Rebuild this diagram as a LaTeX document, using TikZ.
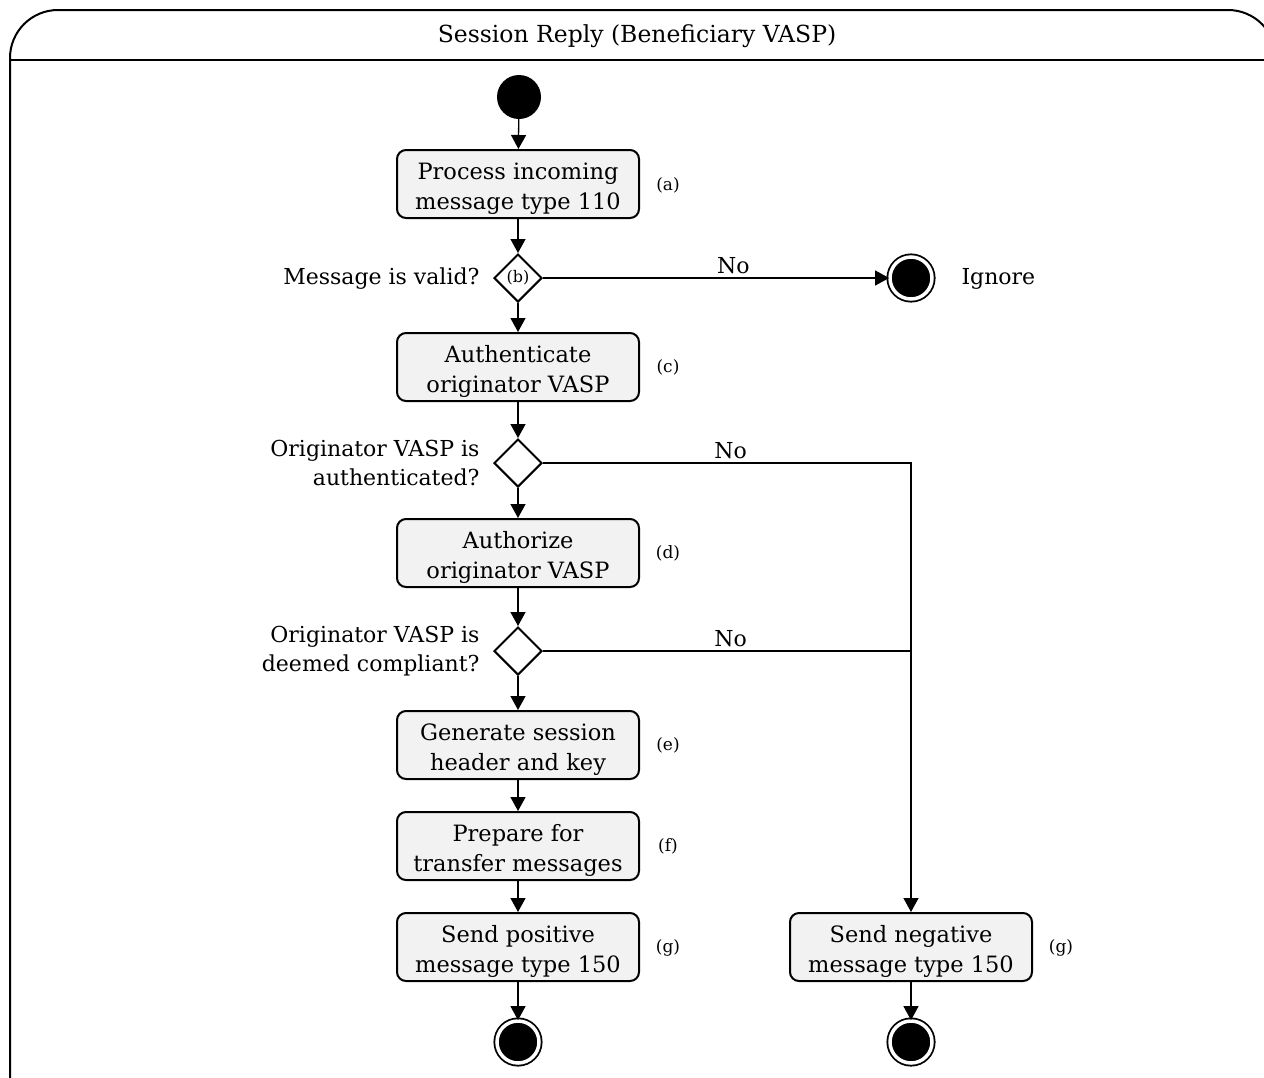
\documentclass[tikz,border=0pt]{standalone}
\usepackage{fontspec}
\setmainfont{DejaVu Serif}
\usetikzlibrary{arrows.meta,shapes.geometric}
% two centred lines inside an action box, first line given extra head room
\newcommand\boxlines[2]{\rule{0pt}{25pt}#1\\#2}
\tikzset{
  frame/.style={line width=2pt, rounded corners=48pt},
  actbox/.style={draw, line width=2pt, rounded corners=9pt, fill=black!5,
    minimum width=242pt, minimum height=68pt, align=center, inner sep=0pt,
    font=\fontsize{22.5}{30}\selectfont},
  decide/.style={draw, line width=2pt, diamond, minimum width=48pt, minimum height=48pt,
    inner sep=0pt, font=\fontsize{16}{18}\selectfont},
  startdot/.style={circle, fill=black, minimum size=44pt, inner sep=0pt},
  enddot/.style={circle, draw, line width=1.8pt, fill=black, double=white,
    double distance=3.5pt, minimum size=42pt, inner sep=0pt},
  tag/.style={font=\fontsize{17}{19}\selectfont},
  side/.style={font=\fontsize{22}{29}\selectfont, align=right, anchor=east},
  plain/.style={font=\fontsize{22}{26}\selectfont},
  flow/.style={line width=1.3pt, -{Triangle[length=14pt,width=15pt]}},
  link/.style={line width=1.3pt}
}
\begin{document}
\begin{tikzpicture}[x=1pt, y=-1pt]
\useasboundingbox (0,0) rectangle (1264,1077);
% swimlane frame with its title bar
\draw[frame] (10,1080) -- (10,10) -- (1276,10) -- (1276,1080);
\draw[line width=1.6pt] (10,60) -- (1264,60);
\node[plain, font=\fontsize{23.5}{28}\selectfont] (title) at (637,36) {Session Reply (Beneficiary VASP)};

% main column of actions
\node[startdot] (start) at (519,97) {};
\node[actbox] (a) at (518,184) {\boxlines{Process incoming}{message type 110}};
\node[tag] (ta) at (668,185) {(a)};
\node[decide] (b) at (518,278) {(b)};
\node[side] (qb) at (483,279) {Message is valid?};
\node[enddot] (ign) at (911,278) {};
\node[plain, anchor=west] (ignl) at (958,279) {Ignore};

\node[actbox] (c) at (518,367) {\boxlines{Authenticate}{originator VASP}};
\node[tag] (tc) at (668,367) {(c)};
\node[decide] (auth) at (518,463) {};
\node[side] (qauth) at (483,463) {Originator VASP is\\authenticated?};

\node[actbox] (d) at (518,553) {\boxlines{Authorize}{originator VASP}};
\node[tag] (td) at (668,553) {(d)};
\node[decide] (comp) at (518,651) {};
\node[side] (qcomp) at (483,651) {Originator VASP is\\deemed compliant?};

\node[actbox] (e) at (518,745) {\boxlines{Generate session}{header and key}};
\node[tag] (te) at (668,745) {(e)};
\node[actbox] (f) at (518,846) {\boxlines{Prepare for}{transfer messages}};
\node[tag] (tf) at (668,846) {(f)};
\node[actbox] (g) at (518,947) {\boxlines{Send positive}{message type 150}};
\node[tag] (tg) at (668,948) {(g)};
\node[enddot] (endp) at (518,1042) {};

% negative branch
\node[actbox] (gn) at (911,947) {\boxlines{Send negative}{message type 150}};
\node[tag] (tgn) at (1061,948) {(g)};
\node[enddot] (endn) at (911,1042) {};

% connectors
\draw[flow] (start) -- (a);
\draw[flow] (a) -- (b);
\draw[flow] (b) -- (c);
\draw[flow] (b) -- node[plain, above, pos=0.55] {No} (ign);
\draw[flow] (c) -- (auth);
\draw[flow] (auth) -- (d);
\draw[flow] (d) -- (comp);
\draw[flow] (comp) -- (e);
\draw[flow] (e) -- (f);
\draw[flow] (f) -- (g);
\draw[flow] (g) -- (endp);
\draw[flow] (auth.east) -- node[plain, above, pos=0.51] {No} (auth.east -| gn.north) -- (gn.north);
\coordinate (join) at (comp.east -| gn.north);
\draw[link] (comp.east) -- node[plain, above, pos=0.51] {No} (join);
\draw[flow] (gn) -- (endn);
\end{tikzpicture}
\end{document}
